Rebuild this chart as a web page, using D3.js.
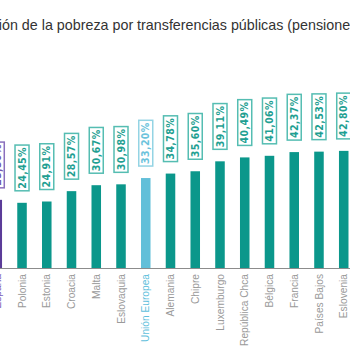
<!DOCTYPE html>
<html>
<head>
<meta charset="utf-8">
<script src="https://cdn.jsdelivr.net/npm/d3@7"></script>
<style>
  body { margin: 0; background: #fff; }
  svg { display: block; }
</style>
</head>
<body>
<div id="chart"></div>
<script>
// data (left bar is cut by the frame)
const countries = ["España", "Polonia", "Estonia", "Croacia", "Malta", "Eslovaquia", "Unión Europea",
    "Alemania", "Chipre", "Luxemburgo", "República Chca", "Bélgica", "Francia", "Países Bajos", "Eslovenia"];
const values = [25.5, 24.45, 24.91, 28.57, 30.67, 30.98, 33.20, 34.78, 35.60, 39.11, 40.49, 41.06, 42.37, 42.53, 42.80];
const highlight = { "España": "spain", "Unión Europea": "eu" };

const width = 350;
const height = 350;
const baseY = 268;

const colors = {
    normal: { bar: "#0b978b", box: "#55bdb2", text: "#1f9f92", cat: "#9a9a9a" },
    eu: { bar: "#62bfd9", box: "#94d4e4", text: "#6cc3dc", cat: "#5fbfdc" },
    spain: { bar: "#5b3c98", box: "#8a70bd", text: "#7457ad", cat: "#7a5cb8" }
};

const data = countries.map((c, i) => ({ name: c, value: values[i], kind: highlight[c] || "normal" }));

const svg = d3.select("#chart")
    .append("svg")
    .attr("width", width)
    .attr("height", height);

// title, first word runs off the left edge
const titleFont = "14.3px";
const title = svg.append("text")
    .attr("y", 30)
    .style("font-family", "'Liberation Sans', Arial, sans-serif")
    .style("font-size", titleFont)
    .attr("fill", "#333")
    .text("Reducción de la pobreza por transferencias públicas (pensiones incluidas)");
const pre = svg.append("text")
    .style("font-family", "'Liberation Sans', Arial, sans-serif")
    .style("font-size", titleFont)
    .text("Reducci");
title.attr("x", 2 - pre.node().getComputedTextLength());
pre.remove();

const x = d3.scaleBand()
    .domain(countries)
    .range([-15.1, 356.1])
    .paddingInner(0.615)
    .paddingOuter(0.3075);

const y = d3.scaleLinear()
    .domain([0, 45])
    .range([272, 272 - 45 * 2.83]);

// bars
svg.selectAll(".bar")
    .data(data)
    .join("rect")
    .attr("class", "bar")
    .attr("x", d => x(d.name))
    .attr("width", x.bandwidth())
    .attr("y", d => y(d.value))
    .attr("height", d => baseY - y(d.value))
    .attr("fill", d => colors[d.kind].bar);

// baseline
svg.append("line")
    .attr("x1", 0)
    .attr("x2", width)
    .attr("y1", baseY + 0.5)
    .attr("y2", baseY + 0.5)
    .attr("stroke", "#8c8c8c")
    .attr("stroke-width", 1);

// value labels in boxes, rotated
const lab = svg.selectAll(".vlab")
    .data(data)
    .join("g")
    .attr("class", "vlab");

lab.each(function(d) {
    const g = d3.select(this);
    const cx = x(d.name) + x.bandwidth() / 2;
    const bottom = y(d.value) - 12;
    const t = g.append("text")
        .style("font-family", "'Liberation Sans Narrow', 'DejaVu Sans Condensed', sans-serif")
        .style("font-size", "10.5px")
        .style("font-weight", "bold")
        .style("letter-spacing", "0.4px")
        .attr("fill", colors[d.kind].text)
        .attr("text-anchor", "middle")
        .text(d3.format(".2f")(d.value).replace(".", ",") + "%");
    const len = t.node().getComputedTextLength();
    const h = len + 4;
    const cy = bottom - h / 2;
    g.insert("rect", "text")
        .attr("x", cx - 7)
        .attr("y", bottom - h)
        .attr("width", 14)
        .attr("height", h)
        .attr("fill", "#fff")
        .attr("stroke", colors[d.kind].box)
        .attr("stroke-width", 1.5);
    t.attr("transform", `translate(${cx + 3.6},${cy}) rotate(-90)`);
});

// category labels
svg.selectAll(".cat")
    .data(data)
    .join("text")
    .attr("class", "cat")
    .attr("transform", d => `translate(${x(d.name) + x.bandwidth() / 2 + 3.6},${baseY + 6}) rotate(-90)`)
    .attr("text-anchor", "end")
    .style("font-family", "'Liberation Sans', Arial, sans-serif")
    .style("font-size", "10.2px")
    .attr("fill", d => colors[d.kind].cat)
    .text(d => d.name);
</script>
</body>
</html>
